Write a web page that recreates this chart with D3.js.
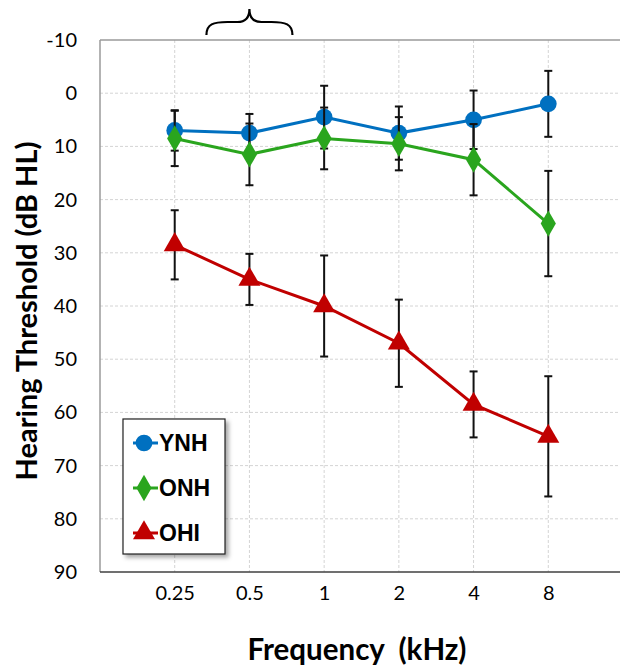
<!DOCTYPE html>
<html>
<head>
<meta charset="utf-8">
<script src="https://cdn.jsdelivr.net/npm/d3@7"></script>
<style>
  body { margin: 0; background: #fff; }
  svg { display: block; }
</style>
</head>
<body>
<div id="chart"></div>
<script>
const freqs = ["0.25", "0.5", "1", "2", "4", "8"];
const yTicks = [-10, 0, 10, 20, 30, 40, 50, 60, 70, 80, 90];

const ynh = [7, 7.5, 4.5, 7.5, 5, 2];
const ynhErr = [3.8, 3.6, 5.9, 5, 5.5, 6.2];
const onh = [8.5, 11.5, 8.5, 9.5, 12.5, 24.5];
const onhErr = [5.2, 5.8, 5.8, 5, 6.7, 9.9];
const ohi = [28.5, 35, 40, 47, 58.5, 64.5];
const ohiErr = [6.5, 4.8, 9.5, 8.2, 6.2, 11.3];

const series = [
  { name: "YNH", values: ynh, err: ynhErr, color: "#0070c0", shape: d3.symbolCircle, size: 220 },
  { name: "ONH", values: onh, err: onhErr, color: "#2aa51e", shape: d3.symbolDiamond, size: 200 },
  { name: "OHI", values: ohi, err: ohiErr, color: "#c00000", shape: d3.symbolTriangle, size: 210 }
];

const W = 620, H = 669;
const margin = { top: 40, right: -3, bottom: 97, left: 100 };

const svg = d3.select("#chart").append("svg")
  .attr("width", W)
  .attr("height", H);

const x = d3.scalePoint().domain(freqs).range([margin.left, W - margin.right]).padding(1);
const y = d3.scaleLinear().domain([-10, 90]).range([margin.top, H - margin.bottom]);

const defs = svg.append("defs");
defs.append("filter").attr("id", "shadow")
  .attr("x", "-20%").attr("y", "-20%").attr("width", "140%").attr("height", "140%")
  .append("feDropShadow")
  .attr("dx", 3).attr("dy", 3).attr("stdDeviation", 2)
  .attr("flood-color", "#000").attr("flood-opacity", 0.35);

// grid
const grid = svg.append("g").attr("class", "grid");
grid.selectAll(".hg")
  .data(yTicks.filter(d => d > -10 && d < 90))
  .join("line")
  .attr("x1", margin.left).attr("x2", W)
  .attr("y1", d => y(d)).attr("y2", d => y(d))
  .attr("stroke", "#d4d4d4").attr("stroke-width", 1).attr("stroke-dasharray", "3,2");
grid.selectAll(".vg")
  .data(freqs)
  .join("line")
  .attr("x1", d => x(d)).attr("x2", d => x(d))
  .attr("y1", y(-10)).attr("y2", y(90))
  .attr("stroke", "#d4d4d4").attr("stroke-width", 1).attr("stroke-dasharray", "3,2");

// frame
svg.append("line")
  .attr("x1", margin.left).attr("x2", W).attr("y1", y(-10)).attr("y2", y(-10))
  .attr("stroke", "#9a9a9a").attr("stroke-width", 1.5);
svg.append("line")
  .attr("x1", margin.left).attr("x2", margin.left).attr("y1", y(-10)).attr("y2", y(90))
  .attr("stroke", "#9a9a9a").attr("stroke-width", 1.5);

// axes
const yAxis = svg.append("g")
  .attr("transform", `translate(${margin.left},0)`)
  .call(d3.axisLeft(y).tickValues(yTicks).tickFormat(d => String(d)).tickSize(0).tickPadding(23));
yAxis.select(".domain").remove();
yAxis.selectAll("text")
  .attr("font-family", "Lato, 'Open Sans', sans-serif")
  .attr("font-size", 20).attr("fill", "#000");

const xAxis = svg.append("g")
  .attr("transform", `translate(0,${y(90)})`)
  .call(d3.axisBottom(x).tickSize(0).tickPadding(14));
xAxis.select(".domain").attr("stroke", "#404040").attr("stroke-width", 1.5)
  .attr("d", `M${margin.left},0H${W}`);
xAxis.selectAll("text")
  .attr("font-family", "Lato, 'Open Sans', sans-serif")
  .attr("font-size", 20).attr("fill", "#000");

// titles
svg.append("text")
  .attr("x", 357).attr("y", 660)
  .attr("text-anchor", "middle")
  .attr("font-family", "Lato, sans-serif").attr("font-weight", "bold")
  .attr("font-size", 29.5).attr("fill", "#000")
  .attr("xml:space", "preserve")
  .text("Frequency  (kHz)");

svg.append("text")
  .attr("transform", `translate(37,311) rotate(-90)`)
  .attr("text-anchor", "middle")
  .attr("font-family", "Lato, sans-serif").attr("font-weight", "bold")
  .attr("font-size", 29).attr("fill", "#000")
  .text("Hearing Threshold (dB HL)");

// brace above 0.5
const bx = x("0.5");
svg.append("path")
  .attr("d", `M${bx - 43},35 C${bx - 43},24 ${bx - 36},22 ${bx - 22},22 L${bx - 12},22 C${bx - 4},22 ${bx},18 ${bx},9 C${bx},18 ${bx + 4},22 ${bx + 12},22 L${bx + 22},22 C${bx + 36},22 ${bx + 43},24 ${bx + 43},35`)
  .attr("fill", "none").attr("stroke", "#000").attr("stroke-width", 2.2);

// series
const line = d3.line().x((d, i) => x(freqs[i])).y(d => y(d));

series.forEach(s => {
  const g = svg.append("g");
  const bars = g.selectAll(".bar").data(s.values).join("g");
  bars.append("line")
    .attr("x1", (d, i) => x(freqs[i])).attr("x2", (d, i) => x(freqs[i]))
    .attr("y1", (d, i) => y(d - s.err[i])).attr("y2", (d, i) => y(d + s.err[i]))
    .attr("stroke", "#111").attr("stroke-width", 2);
  [-1, 1].forEach(sign => {
    bars.append("line")
      .attr("x1", (d, i) => x(freqs[i]) - 4).attr("x2", (d, i) => x(freqs[i]) + 4)
      .attr("y1", (d, i) => y(d + sign * s.err[i])).attr("y2", (d, i) => y(d + sign * s.err[i]))
      .attr("stroke", "#111").attr("stroke-width", 2);
  });
  g.append("path")
    .datum(s.values)
    .attr("d", line)
    .attr("fill", "none").attr("stroke", s.color).attr("stroke-width", 3);
  g.selectAll(".mk").data(s.values).join("path")
    .attr("transform", (d, i) => `translate(${x(freqs[i])},${y(d)})`)
    .attr("d", d3.symbol().type(s.shape).size(s.size))
    .attr("fill", s.color);
});

// legend
const legend = svg.append("g").attr("transform", "translate(123,419)");
legend.append("rect")
  .attr("width", 102).attr("height", 135)
  .attr("fill", "#fff").attr("stroke", "#222").attr("stroke-width", 1.2)
  .attr("filter", "url(#shadow)");
series.forEach((s, i) => {
  const ly = 24 + i * 45;
  legend.append("line")
    .attr("x1", 10).attr("x2", 35).attr("y1", ly).attr("y2", ly)
    .attr("stroke", s.color).attr("stroke-width", 3);
  legend.append("path")
    .attr("transform", `translate(21,${ly})`)
    .attr("d", d3.symbol().type(s.shape).size(s.size))
    .attr("fill", s.color);
  legend.append("text")
    .attr("x", 36).attr("y", ly + 8)
    .attr("font-family", "'Liberation Sans', Arial, sans-serif").attr("font-weight", "bold")
    .attr("font-size", 23).attr("fill", "#000")
    .text(s.name);
});
</script>
</body>
</html>
